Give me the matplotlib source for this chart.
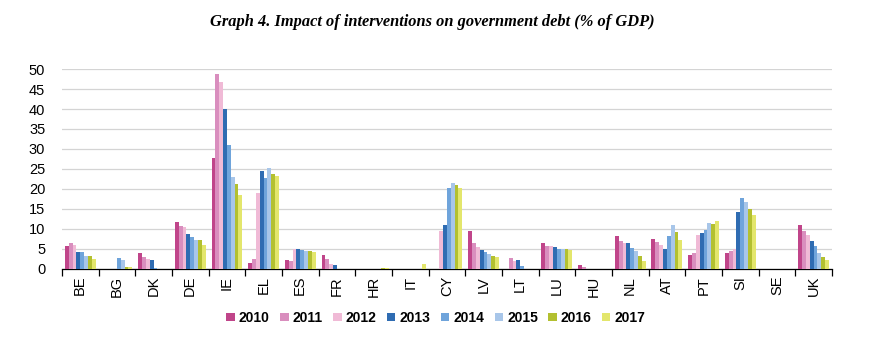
import numpy as np
import matplotlib.pyplot as plt
from matplotlib.patches import Patch

countries = ["BE", "BG", "DK", "DE", "IE", "EL", "ES", "FR", "HR", "IT", "CY",
             "LV", "LT", "LU", "HU", "NL", "AT", "PT", "SI", "SE", "UK"]
years = ["2010", "2011", "2012", "2013", "2014", "2015", "2016", "2017"]

# debt impact by year, one value per country (same order as countries)
y2010 = [5.8, 0.0, 3.9, 11.7, 27.8, 1.5, 2.3, 3.4, 0.1, 0.1, 0.0,
         9.5, 0.1, 6.5, 1.1, 8.2, 7.6, 3.5, 4.0, 0.0, 11.1]
y2011 = [6.6, 0.0, 3.1, 10.8, 48.8, 2.4, 2.0, 2.6, 0.1, 0.1, 0.0,
         6.5, 2.8, 5.8, 0.6, 6.9, 6.7, 4.1, 4.6, 0.1, 9.6]
y2012 = [6.0, 0.0, 2.4, 10.5, 46.7, 19.1, 4.9, 1.2, 0.1, 0.1, 9.5,
         5.4, 2.1, 5.8, 0.0, 6.4, 5.9, 8.6, 5.0, 0.1, 8.6]
y2013 = [4.3, 0.0, 2.3, 8.7, 40.1, 24.5, 4.9, 1.1, 0.1, 0.1, 10.9,
         4.8, 2.3, 5.5, 0.0, 6.6, 5.1, 9.1, 14.2, 0.1, 7.1]
y2014 = [4.3, 2.8, 0.2, 8.1, 31.1, 22.8, 4.7, 0.1, 0.1, 0.1, 20.2,
         4.3, 0.8, 5.1, 0.0, 5.3, 8.3, 9.7, 17.8, 0.1, 5.8]
y2015 = [3.3, 2.3, 0.1, 7.2, 22.9, 25.2, 4.6, 0.1, 0.1, 0.1, 21.5,
         3.8, 0.1, 5.0, 0.0, 4.4, 10.9, 11.5, 16.8, 0.0, 3.9]
y2016 = [3.3, 0.5, 0.1, 7.2, 21.3, 23.8, 4.6, 0.1, 0.3, 0.1, 21.1,
         3.3, 0.1, 4.9, 0.0, 3.2, 9.3, 11.2, 15.1, 0.0, 3.1]
y2017 = [2.5, 0.4, 0.1, 5.9, 18.6, 23.3, 4.3, 0.1, 0.3, 1.3, 20.3,
         3.0, 0.1, 4.7, 0.0, 2.1, 7.3, 12.0, 13.5, 0.0, 2.2]

series = [y2010, y2011, y2012, y2013, y2014, y2015, y2016, y2017]
colors = ["#C0458A", "#D98EBE", "#F0BAD6", "#2F6CB2",
          "#6FA4DB", "#A8C6E9", "#B3C030", "#E3E66C"]

plt.rcParams["font.family"] = ["Liberation Sans", "DejaVu Sans"]

fig = plt.figure(figsize=(8.72, 3.40), dpi=100)
ax = fig.add_axes([0.071, 0.209, 0.883, 0.588])

x = np.arange(len(countries))
group = 0.84
w = group / len(series)
for i, vals in enumerate(series):
    ax.bar(x - group / 2 + w * (i + 0.5), vals, width=w, color=colors[i],
           linewidth=0, zorder=3)

ax.set_xlim(-0.5, len(countries) - 0.5)
ax.set_ylim(0, 50)
ax.set_yticks(np.arange(0, 51, 5))
ax.yaxis.grid(True, color="#D4D4D4", linewidth=0.9, zorder=0)
ax.tick_params(axis="y", length=0, labelsize=10.5, pad=12)

# labels sit on the category centres, tick marks on the boundaries
ax.set_xticks(x)
ax.set_xticklabels(countries, rotation=90, fontsize=10.5)
ax.tick_params(axis="x", which="major", length=0, pad=5)
ax.set_xticks(np.arange(-0.5, len(countries), 1), minor=True)
ax.tick_params(axis="x", which="minor", length=5, width=0.9, color="black")

for side in ["top", "right", "left"]:
    ax.spines[side].set_visible(False)
ax.spines["bottom"].set_color("black")
ax.spines["bottom"].set_linewidth(0.9)

fig.text(0.496, 0.935, "Graph 4. Impact of interventions on government debt (% of GDP)",
         ha="center", va="center", fontsize=11.8, fontweight="bold",
         fontstyle="italic", family="Liberation Serif")

handles = [Patch(facecolor=c, edgecolor="none") for c in colors]
leg = fig.legend(handles, years, loc="center", bbox_to_anchor=(0.50, 0.065),
                 ncol=8, frameon=False, handlelength=0.6, handleheight=0.6,
                 handletextpad=0.3, columnspacing=0.75,
                 prop={"weight": "bold", "size": 10})

fig.savefig("out.png", dpi=100)
